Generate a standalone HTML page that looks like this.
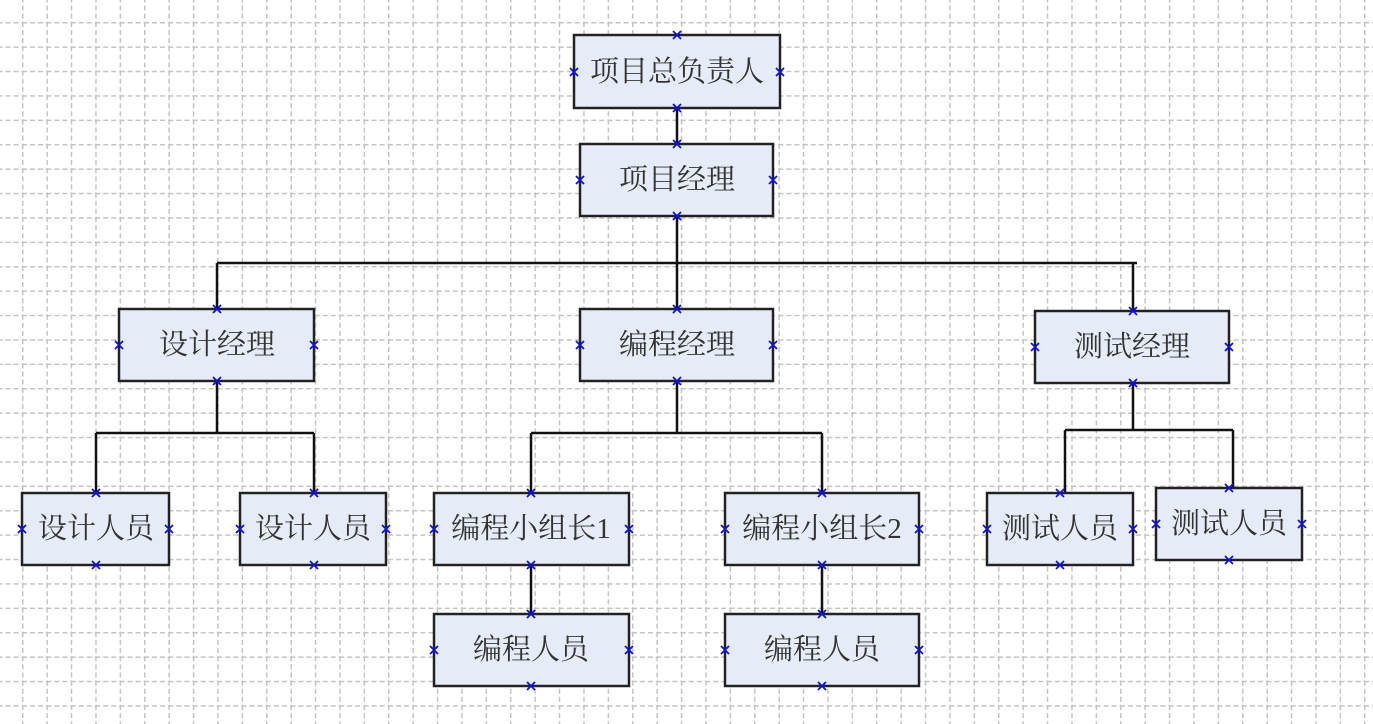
<!DOCTYPE html>
<html><head><meta charset="utf-8"><style>
html,body{margin:0;padding:0;background:#fff;}
svg{display:block}
text{font-family:"Liberation Serif","Noto Serif CJK SC",serif;font-size:29px;fill:#333;text-anchor:middle;dominant-baseline:central}
</style></head><body>
<svg width="1373" height="724" viewBox="0 0 1373 724" xmlns="http://www.w3.org/2000/svg">
<defs>
<pattern id="g" patternUnits="userSpaceOnUse" x="22" y="22" width="24.4" height="24.4">
<line x1="0.5" y1="0" x2="0.5" y2="24.4" stroke="#c4c4c4" stroke-width="2" stroke-dasharray="5,3"/>
<line x1="0" y1="0.5" x2="24.4" y2="0.5" stroke="#c4c4c4" stroke-width="2" stroke-dasharray="5,3"/>
</pattern>
<g id="m"><path d="M-4,-4L4,4M-4,4L4,-4" stroke="#1010e0" stroke-width="1.8"/></g>
</defs>
<rect width="1373" height="724" fill="url(#g)"/>
<g stroke="#111" stroke-width="2.5" fill="none">
<path d="M677,108V144M677,216V309M217,263H1137M217,263V309M1133,263V311"/>
<path d="M217,381V433M96,433H314M96,433V493M314,433V493"/>
<path d="M677,381V433M531,433H822M531,433V493M822,433V493"/>
<path d="M1133,383V430M1065,430H1233M1065,430V493M1233,430V488"/>
<path d="M531,565V614M822,565V614"/>
</g>
<g fill="#e6ecf7" stroke="#222" stroke-width="2.5">
<rect x="574" y="35" width="206" height="73"/>
<rect x="580" y="144" width="193" height="72"/>
<rect x="119" y="309" width="195" height="72"/>
<rect x="580" y="309" width="193" height="72"/>
<rect x="1035" y="311" width="194" height="72"/>
<rect x="22" y="493" width="147" height="72"/>
<rect x="240" y="493" width="146" height="72"/>
<rect x="434" y="493" width="195" height="72"/>
<rect x="725" y="493" width="194" height="72"/>
<rect x="987" y="493" width="146" height="72"/>
<rect x="1156" y="488" width="146" height="72"/>
<rect x="434" y="614" width="195" height="72"/>
<rect x="725" y="614" width="194" height="72"/>
</g>
<text x="677" y="72">项目总负责人</text>
<text x="677" y="180">项目经理</text>
<text x="217" y="345">设计经理</text>
<text x="677" y="345">编程经理</text>
<text x="1132" y="347">测试经理</text>
<text x="96" y="529">设计人员</text>
<text x="313" y="529">设计人员</text>
<text x="531" y="529">编程小组长1</text>
<text x="822" y="529">编程小组长2</text>
<text x="1060" y="529">测试人员</text>
<text x="1229" y="524">测试人员</text>
<text x="531" y="650">编程人员</text>
<text x="822" y="650">编程人员</text>
<g>
<use href="#m" x="677" y="35"/><use href="#m" x="677" y="108"/><use href="#m" x="574" y="72"/><use href="#m" x="780" y="72"/>
<use href="#m" x="677" y="144"/><use href="#m" x="677" y="216"/><use href="#m" x="580" y="180"/><use href="#m" x="773" y="180"/>
<use href="#m" x="217" y="309"/><use href="#m" x="217" y="381"/><use href="#m" x="119" y="345"/><use href="#m" x="314" y="345"/>
<use href="#m" x="677" y="309"/><use href="#m" x="677" y="381"/><use href="#m" x="580" y="345"/><use href="#m" x="773" y="345"/>
<use href="#m" x="1133" y="311"/><use href="#m" x="1133" y="383"/><use href="#m" x="1035" y="347"/><use href="#m" x="1229" y="347"/>
<use href="#m" x="96" y="493"/><use href="#m" x="96" y="565"/><use href="#m" x="22" y="529"/><use href="#m" x="169" y="529"/>
<use href="#m" x="314" y="493"/><use href="#m" x="314" y="565"/><use href="#m" x="240" y="529"/><use href="#m" x="386" y="529"/>
<use href="#m" x="531" y="493"/><use href="#m" x="531" y="565"/><use href="#m" x="434" y="529"/><use href="#m" x="629" y="529"/>
<use href="#m" x="822" y="493"/><use href="#m" x="822" y="565"/><use href="#m" x="725" y="529"/><use href="#m" x="919" y="529"/>
<use href="#m" x="1060" y="493"/><use href="#m" x="1060" y="565"/><use href="#m" x="987" y="529"/><use href="#m" x="1133" y="529"/>
<use href="#m" x="1229" y="488"/><use href="#m" x="1229" y="560"/><use href="#m" x="1156" y="524"/><use href="#m" x="1302" y="524"/>
<use href="#m" x="531" y="614"/><use href="#m" x="531" y="686"/><use href="#m" x="434" y="650"/><use href="#m" x="629" y="650"/>
<use href="#m" x="822" y="614"/><use href="#m" x="822" y="686"/><use href="#m" x="725" y="650"/><use href="#m" x="919" y="650"/>
</g>
</svg>
</body></html>
